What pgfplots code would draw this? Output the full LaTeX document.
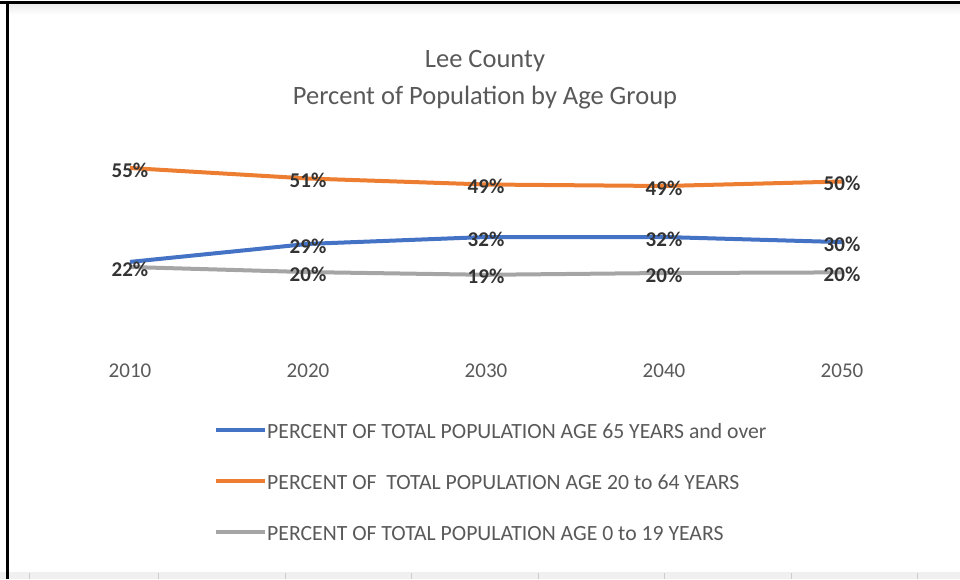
\documentclass[border=0pt]{standalone}
\usepackage{fontspec}
\setmainfont{Carlito}
\usepackage{pgfplots}
\pgfplotsset{compat=1.18}
\definecolor{cblue}{HTML}{4472C4}
\definecolor{corange}{HTML}{ED7D31}
\definecolor{cgray}{HTML}{A5A5A5}
\definecolor{lbl}{HTML}{333333}
\definecolor{txt}{HTML}{595959}
\begin{document}
\begin{tikzpicture}[x=1pt,y=1pt]
\path[use as bounding box] (0,0) rectangle (960,579);
\fill[gray!12] (0,0) rectangle (960,7);
\foreach \x in {29,158,285,411,538,664,791,917} \draw[gray!40, line width=1pt] (\x,0) -- (\x,6);
\fill[top color=gray!15, bottom color=white] (8,564) rectangle (960,575);
\draw[black, line width=3pt] (0,576.5) -- (960,576.5);
\draw[black, line width=3pt] (7,0) -- (7,578);
\node[anchor=base, text=txt, font=\fontsize{26.5}{30}\selectfont] at (485,511) {Lee County};
\node[anchor=base, text=txt, font=\fontsize{26.5}{30}\selectfont] at (485,474) {Percent of Population by Age Group};
\begin{axis}[
  at={(130pt,246pt)}, anchor=south west,
  scale only axis, width=712pt, height=180pt,
  xmin=0, xmax=4, ymin=0, ymax=60,
  clip=false,
  axis line style={draw=none},
  major tick length=0pt,
  ytick=\empty,
  xtick={0,1,2,3,4},
  xticklabels={2010,2020,2030,2040,2050},
  xticklabel style={anchor=base, yshift=-44pt, text=txt, font=\fontsize{21}{25}\selectfont},
  every axis plot/.append style={line width=4pt},
  point meta=explicit symbolic,
  nodes near coords={\pgfplotspointmeta},
  every node near coord/.append style={anchor=center, yshift=-2pt, text=lbl, font=\fontsize{21}{25}\selectfont\bfseries},
  legend cell align=left,
  legend style={at={(0.118,-0.503)}, anchor=north west, draw=none, fill=none, inner sep=0pt,
    row sep=31pt, text=txt, font=\fontsize{21.7}{25}\selectfont,
    nodes={inner sep=0pt, text height=15pt, text depth=5pt, anchor=west}},
  legend image code/.code={\draw[#1, line width=4pt] (0pt,4pt) -- (49pt,4pt);},
]
\addplot[cblue, mark=none] coordinates {(0,23.7) [{}] (1,29.7) [29\%] (2,32) [32\%] (3,32) [32\%] (4,30.3) [30\%]};
\addlegendentry{PERCENT OF TOTAL POPULATION AGE 65 YEARS and over}
\addplot[corange, mark=none] coordinates {(0,55) [55\%] (1,51.5) [51\%] (2,49.5) [49\%] (3,49) [49\%] (4,50.5) [50\%]};
\addlegendentry{PERCENT OF\ \ TOTAL POPULATION AGE 20 to 64 YEARS}
\addplot[cgray, mark=none] coordinates {(0,22) [22\%] (1,20.3) [20\%] (2,19.4) [19\%] (3,20) [20\%] (4,20.2) [20\%]};
\addlegendentry{PERCENT OF TOTAL POPULATION AGE 0 to 19 YEARS}
\end{axis}
\end{tikzpicture}
\end{document}
